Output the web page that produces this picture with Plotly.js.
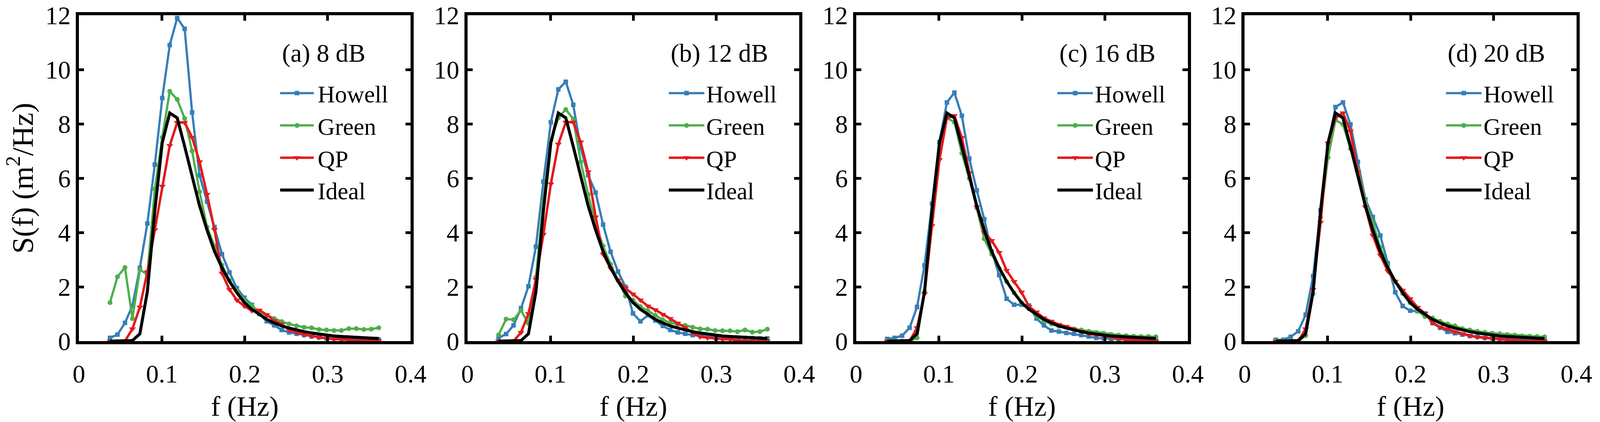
<!DOCTYPE html>
<html>
<head>
<meta charset="utf-8">
<script src="https://cdn.plot.ly/plotly-3.0.1.min.js"></script>
<style>
html,body{margin:0;padding:0;background:#fff;overflow:hidden;}
#chart{position:absolute;left:0;top:0;}
</style>
</head>
<body>
<div id="chart"></div>
<script>
// Frequency bins (Hz)
const freq = [0.0375, 0.0465, 0.0555, 0.0645, 0.0735, 0.0825, 0.0915, 0.1005, 0.1095, 0.1185,
              0.1275, 0.1365, 0.1455, 0.1545, 0.1635, 0.1725, 0.1815, 0.1905, 0.1995, 0.2085,
              0.2175, 0.2265, 0.2355, 0.2445, 0.2535, 0.2625, 0.2715, 0.2805, 0.2895, 0.2985,
              0.3075, 0.3165, 0.3255, 0.3345, 0.3435, 0.3525, 0.3615];

// Ideal spectrum (same in all panels)
const ideal = [0, 0, 0, 0.02, 0.27, 1.82, 4.8, 7.31, 8.40, 8.22,
               7.17, 6.03, 4.98, 4.09, 3.3, 2.7, 2.2, 1.78, 1.42, 1.17,
               0.97, 0.8, 0.67, 0.56, 0.48, 0.41, 0.35, 0.30, 0.26, 0.22,
               0.19, 0.17, 0.15, 0.13, 0.12, 0.11, 0.1];

// (a) 8 dB
const howell8 = [0.12, 0.24, 0.67, 1.3, 2.7, 4.33, 6.5, 8.95, 10.9, 11.9,
                 11.5, 8.42, 6.1, 5.14, 4.2, 3.2, 2.53, 1.95, 1.6, 1.34,
                 1.0, 0.73, 0.58, 0.41, 0.32, 0.27, 0.22, 0.17, 0.14, 0.11,
                 0.1, 0.09, 0.08, 0.08, 0.07, 0.07, 0.06];
const green8  = [1.42, 2.37, 2.71, 0.83, 2.63, 2.45, 5.6, 7.5, 9.2, 8.9,
                 8.2, 7.0, 5.5, 4.2, 3.5, 2.8, 2.24, 1.85, 1.51, 1.31,
                 1.07, 0.95, 0.83, 0.72, 0.63, 0.56, 0.51, 0.49, 0.43, 0.41,
                 0.39, 0.39, 0.46, 0.46, 0.43, 0.44, 0.49];
const qp8     = [0, 0, 0, 0.45, 1.25, 2.55, 4.1, 5.7, 7.2, 8.05,
                 8.05, 7.5, 6.6, 5.4, 4.1, 2.5, 1.9, 1.51, 1.29, 1.12,
                 1.14, 0.97, 0.75, 0.63, 0.41, 0.32, 0.24, 0.19, 0.14, 0.1,
                 0.08, 0.07, 0.05, 0.02, 0.01, 0.01, 0.01];

// (b) 12 dB
const howell12 = [0.12, 0.26, 0.58, 1.21, 2.02, 3.48, 5.87, 8.06, 9.27, 9.55,
                  8.7, 7.1, 6.11, 5.47, 4.29, 3.29, 2.56, 2.0, 1.02, 0.73,
                  0.95, 0.76, 0.56, 0.41, 0.32, 0.27, 0.22, 0.2, 0.17, 0.15,
                  0.15, 0.14, 0.13, 0.12, 0.11, 0.1, 0.1];
const green12  = [0.23, 0.81, 0.79, 1.13, 0.65, 2.35, 5.14, 7.41, 8.22, 8.53,
                  8.18, 6.6, 5.4, 4.3, 3.5, 2.83, 2.24, 1.66, 1.51, 1.27,
                  1.12, 0.95, 0.78, 0.68, 0.61, 0.58, 0.51, 0.45, 0.44, 0.39,
                  0.38, 0.38, 0.35, 0.41, 0.33, 0.35, 0.44];
const qp12     = [0, 0, 0, 0.32, 1.01, 2.27, 3.93, 5.79, 7.25, 8.06,
                  8.06, 7.33, 6.23, 4.57, 3.2, 2.68, 2.24, 1.95, 1.73, 1.51,
                  1.29, 1.15, 0.98, 0.83, 0.66, 0.5, 0.3, 0.16, 0.12, 0.1,
                  0.07, 0.07, 0.03, 0.01, 0.01, 0.01, 0.01];

// (c) 16 dB
const howell16 = [0.08, 0.12, 0.2, 0.49, 1.26, 2.79, 5.06, 7.33, 8.79, 9.15,
                  8.3, 6.72, 5.55, 4.49, 3.3, 2.43, 1.56, 1.34, 1.34, 1.31,
                  0.83, 0.58, 0.39, 0.35, 0.3, 0.27, 0.22, 0.17, 0.12, 0.1,
                  0.08, 0.07, 0.06, 0.05, 0.05, 0.04, 0.04];
const green16  = [0, 0, 0, 0, 0.12, 1.82, 4.57, 7.29, 8.22, 8.06,
                  6.92, 5.99, 4.9, 3.77, 3.2, 2.68, 2.19, 1.78, 1.41, 1.19,
                  0.92, 0.75, 0.63, 0.54, 0.51, 0.45, 0.41, 0.36, 0.32, 0.29,
                  0.25, 0.22, 0.2, 0.18, 0.17, 0.17, 0.16];
const qp16     = [0, 0, 0, 0, 0.49, 1.74, 4.25, 6.68, 8.22, 8.3,
                  7.49, 6.19, 4.94, 4.0, 3.7, 3.26, 2.6, 2.19, 1.8, 1.27,
                  1.07, 0.85, 0.73, 0.61, 0.54, 0.44, 0.35, 0.27, 0.24, 0.2,
                  0.15, 0.1, 0.05, 0.03, 0.01, 0.01, 0];

// (d) 20 dB
const howell20 = [0.05, 0.05, 0.16, 0.36, 0.97, 2.39, 4.82, 7.25, 8.62, 8.79,
                  7.98, 6.6, 5.22, 4.57, 3.89, 2.87, 1.8, 1.29, 1.12, 1.1,
                  1.02, 0.66, 0.49, 0.34, 0.29, 0.24, 0.19, 0.16, 0.12, 0.1,
                  0.09, 0.08, 0.07, 0.06, 0.06, 0.05, 0.05];
const green20  = [0, 0, 0, 0, 0.2, 1.74, 4.57, 6.76, 8.14, 7.98,
                  7.09, 6.32, 5.14, 4.37, 3.45, 2.77, 2.19, 1.75, 1.41, 1.12,
                  0.9, 0.85, 0.73, 0.63, 0.56, 0.46, 0.41, 0.36, 0.32, 0.29,
                  0.27, 0.24, 0.22, 0.19, 0.18, 0.17, 0.16];
const qp20     = [0, 0, 0, 0, 0.45, 1.9, 4.37, 7.29, 8.22, 8.4,
                  7.73, 6.23, 4.94, 3.89, 3.16, 2.58, 2.2, 1.87, 1.56, 1.24,
                  1.02, 0.68, 0.52, 0.44, 0.34, 0.27, 0.2, 0.15, 0.12, 0.1,
                  0.07, 0.05, 0.03, 0.01, 0, 0, 0];

const panelTitles = ['(a) 8 dB', '(b) 12 dB', '(c) 16 dB', '(d) 20 dB'];
const seriesNames = ['Howell', 'Green', 'QP', 'Ideal'];
const xTickVals = [0, 0.1, 0.2, 0.3, 0.4];
const xTickText = ['0', '0.1', '0.2', '0.3', '0.4'];
const yTickVals = [0, 2, 4, 6, 8, 10, 12];
const yTickText = ['0', '2', '4', '6', '8', '10', '12'];

const panels = [
  [howell8, green8, qp8, ideal],
  [howell12, green12, qp12, ideal],
  [howell16, green16, qp16, ideal],
  [howell20, green20, qp20, ideal]
];

// Fill the real viewport; design coordinates are for 4278 x 1080.
const DW = 4278, DH = 1080;
const VW = window.innerWidth || DW, VH = window.innerHeight || DH;
const SX = VW / DW, SY = VH / DH;
const hx = v => v * SX;   // horizontal pixel sizes
const hy = v => v * SY;   // vertical pixel sizes

const styles = [
  {color: '#377EB8', width: 6, symbol: 'square', size: 12},
  {color: '#4DAF4A', width: 6, symbol: 'circle', size: 13},
  {color: '#E41A1C', width: 6.5, symbol: 'triangle-down', size: 16},
  {color: '#000000', width: 8, symbol: null, size: 0}
];

const FONT = 'Liberation Serif, Times New Roman, serif';
const STEP = 1039, LEFT0 = 211, PLOTW = 887;
const PTOP = 39, PBOTTOM = 873;

const traces = [];
const annotations = [];
const layout = {
  width: VW, height: VH,
  margin: {l: 0, r: 0, t: 0, b: 0},
  paper_bgcolor: '#fff', plot_bgcolor: '#fff',
  font: {family: FONT, size: hx(66), color: '#000'},
  showlegend: true,
  annotations: annotations
};

panels.forEach((series, p) => {
  const k = p + 1;
  const xa = k === 1 ? 'x' : 'x' + k;
  const ya = k === 1 ? 'y' : 'y' + k;
  const lg = k === 1 ? 'legend' : 'legend' + k;
  series.forEach((vals, s) => {
    const st = styles[s];
    const t = {
      type: 'scatter', x: freq, y: vals, name: seriesNames[s],
      xaxis: xa, yaxis: ya, legend: lg, cliponaxis: false,
      mode: st.symbol ? 'lines+markers' : 'lines',
      line: {color: st.color, width: hx(st.width)}
    };
    if (st.symbol) t.marker = {symbol: st.symbol, size: hx(st.size), color: st.color, line: {width: 0}};
    traces.push(t);
  });
  const x0 = LEFT0 + STEP * p;
  const axCommon = {
    showline: true, linewidth: 8, linecolor: '#000', mirror: 'ticks',
    ticks: 'inside', tickwidth: 7, tickcolor: '#000',
    showgrid: false, zeroline: false, fixedrange: true,
    tickfont: {family: FONT, size: hx(68), color: '#000'}
  };
  layout['xaxis' + (k === 1 ? '' : k)] = Object.assign({}, axCommon, {
    domain: [x0 / DW, (x0 + PLOTW) / DW], anchor: ya,
    range: [0, 0.4], tickvals: xTickVals, ticktext: xTickText,
    ticklen: hy(14), ticklabelstandoff: hy(20),
    title: {text: 'f (Hz)', font: {family: FONT, size: hx(75), color: '#000'}, standoff: hy(46)}
  });
  const yax = Object.assign({}, axCommon, {
    domain: [1 - PBOTTOM / DH, 1 - PTOP / DH], anchor: xa,
    range: [0, 12], tickvals: yTickVals, ticktext: yTickText,
    ticklen: hx(14), ticklabelstandoff: hx(12)
  });
  if (k === 1) yax.title = {text: 'S(f) (m<sup>2</sup>/Hz)', font: {family: FONT, size: hx(80), color: '#000'}, standoff: hx(10)};
  layout['yaxis' + (k === 1 ? '' : k)] = yax;
  layout[lg] = {
    x: (744 + STEP * p) / DW, y: 1 - 192 / DH, xanchor: 'left', yanchor: 'top',
    bgcolor: 'rgba(0,0,0,0)', borderwidth: 0,
    font: {family: FONT, size: hx(64), color: '#000'},
    itemwidth: hx(95), tracegroupgap: 0
  };
  annotations.push({
    xref: 'paper', yref: 'paper', x: (752 + STEP * p) / DW, y: 1 - 136 / DH,
    xanchor: 'left', yanchor: 'middle', showarrow: false,
    text: panelTitles[p], font: {family: FONT, size: hx(68), color: '#000'}
  });
});

Plotly.newPlot('chart', traces, layout, {staticPlot: true, displayModeBar: false}).then(() => {
  // lengthen legend line samples to match the reference style
  const L = hx(90), C = hx(50);
  document.querySelectorAll('.legend .legendlines path').forEach(el => el.setAttribute('d', 'M' + hx(5) + ',0h' + L));
  document.querySelectorAll('.legend .legendpoints path.scatterpts').forEach(el => el.setAttribute('transform', 'translate(' + C + ',0)'));
});
</script>
</body>
</html>
